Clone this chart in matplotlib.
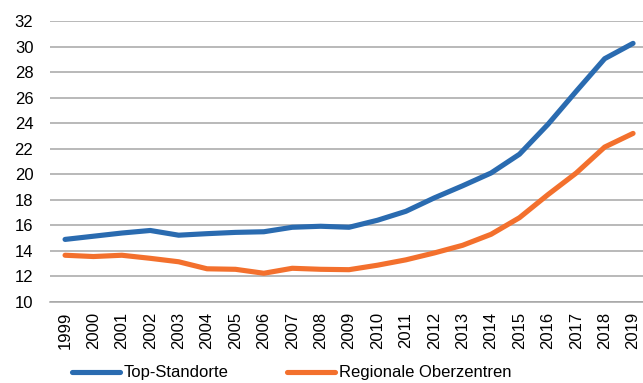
import matplotlib.pyplot as plt
import numpy as np

plt.rcParams['font.family'] = ['Liberation Sans', 'DejaVu Sans']

years = [str(y) for y in range(1999, 2020)]
top_standorte = [14.9, 15.15, 15.4, 15.6, 15.23, 15.35, 15.45, 15.5, 15.85, 15.93, 15.85,
                 16.4, 17.1, 18.15, 19.1, 20.1, 21.57, 23.9, 26.5, 29.05, 30.25]
oberzentren = [13.66, 13.56, 13.66, 13.42, 13.15, 12.6, 12.56, 12.25, 12.64, 12.56, 12.53,
               12.88, 13.3, 13.84, 14.44, 15.3, 16.6, 18.4, 20.1, 22.13, 23.2]

BLUE = '#2a6bb0'
ORANGE = '#f3702d'

fig = plt.figure(figsize=(6.43, 3.83), dpi=100)
ax = fig.add_axes([50 / 643, 81 / 383, 593 / 643, 281 / 383])

x = np.arange(len(years))
ax.plot(x, top_standorte, color=BLUE, lw=3.7, solid_capstyle='round',
        solid_joinstyle='round', label='Top-Standorte')
ax.plot(x, oberzentren, color=ORANGE, lw=3.7, solid_capstyle='round',
        solid_joinstyle='round', label='Regionale Oberzentren')

ax.set_ylim(10, 32)
ax.set_yticks(range(10, 33, 2))
ax.set_xlim(-0.53, 20.35)
ax.set_xticks(x)
ax.set_xticklabels(years, rotation=90)

ax.grid(axis='y', color='#a6a6a6', lw=1.1)
ax.set_axisbelow(True)
for s in ['top', 'right', 'left']:
    ax.spines[s].set_visible(False)
ax.spines['bottom'].set_color('#a6a6a6')
ax.spines['bottom'].set_linewidth(1.1)
ax.tick_params(axis='both', length=0, labelsize=12, colors='black')
ax.tick_params(axis='y', pad=12)
ax.tick_params(axis='x', pad=7)

fig.legend(loc='center left', bbox_to_anchor=(72 / 643, 1 - 373 / 383), ncol=2,
           frameon=False, fontsize=12, handlelength=2.9, handletextpad=0.2,
           columnspacing=3.5, borderpad=0, borderaxespad=0)

fig.savefig('out.png', dpi=100)
